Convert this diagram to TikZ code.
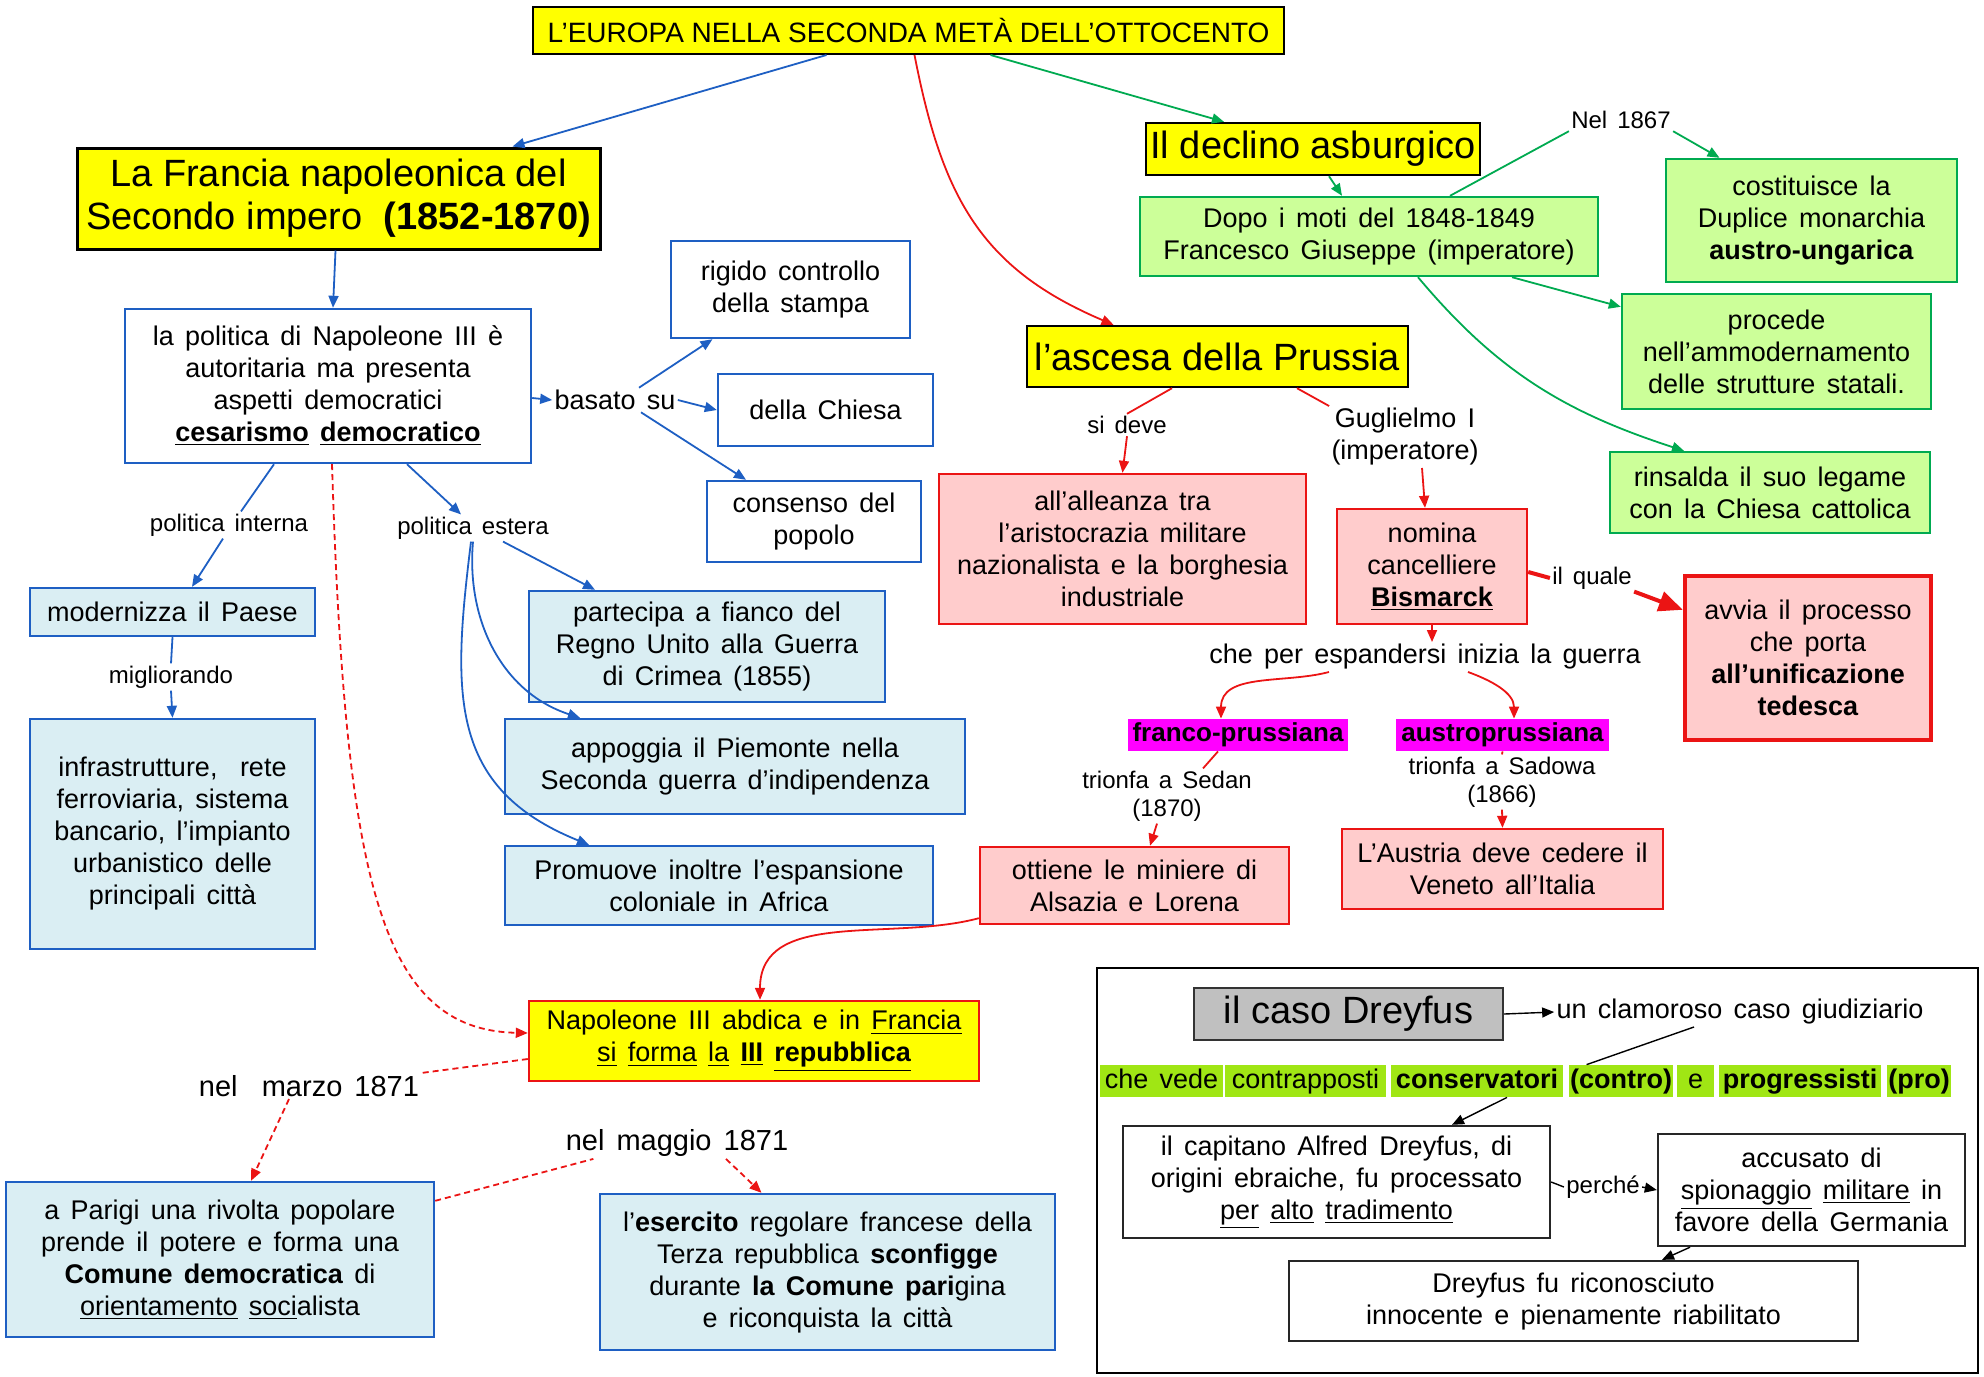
\documentclass[tikz,border=0pt]{standalone}
\usepackage{fontspec}
\setmainfont{Liberation Sans}[WordSpace=1.5]
\newfontfamily\plainsans{Liberation Sans}
\usetikzlibrary{arrows.meta}

\definecolor{bordoblu}{RGB}{30,95,195}
\definecolor{fondoblu}{RGB}{218,238,243}
\definecolor{bordoverde}{RGB}{0,170,80}
\definecolor{fondoverde}{RGB}{204,255,153}
\definecolor{bordorosso}{RGB}{235,20,20}
\definecolor{fondorosa}{RGB}{255,204,204}
\definecolor{giallo}{RGB}{255,255,0}
\definecolor{fucsia}{RGB}{255,0,255}
\definecolor{verdelime}{RGB}{160,230,20}
\definecolor{grigio}{RGB}{192,192,192}

\newcommand\testo{\fontsize{13.5}{16}\selectfont}
\newcommand\etich{\fontsize{12}{14}\selectfont}
\newcommand\grande{\plainsans\fontsize{19}{21.5}\selectfont}

\tikzset{
  wh/.style 2 args={minimum width=#1*0.5pt, minimum height=#2*0.5pt},
  casella/.style={align=center, inner sep=0pt, line width=1.2pt, font=\testo},
  blubox/.style={casella, draw=bordoblu, fill=white},
  azzbox/.style={casella, draw=bordoblu, fill=fondoblu},
  verdebox/.style={casella, draw=bordoverde, fill=fondoverde},
  rosabox/.style={casella, draw=bordorosso, fill=fondorosa},
  titolo/.style={casella, draw=black, fill=giallo, font=\grande},
  nerobox/.style={casella, draw=black!85, fill=white},
  fucsiabox/.style={fill=fucsia, inner sep=0pt, font=\fontsize{13}{15}\selectfont\bfseries},
  evid/.style={fill=verdelime, inner sep=0pt, text height=10pt, text depth=3pt, font=\testo},
  etic/.style={inner sep=1pt, align=center, font=\etich},
  freccia/.style={-{Triangle[length=6pt,width=5pt]}},
  blu/.style={draw=bordoblu, line width=0.9pt},
  verde/.style={draw=bordoverde, line width=0.9pt},
  rosso/.style={draw=bordorosso, line width=0.9pt},
  nero/.style={draw=black, line width=0.7pt},
  tratteggio/.style={rosso, dash pattern=on 3pt off 2pt}
}

\begin{document}
\begin{tikzpicture}[x=0.5pt, y=-0.5pt]
  \useasboundingbox (0,0) rectangle (1984,1376);
  \draw[line width=1pt] (1097,968) rectangle (1978,1373);

  \node[titolo, font=\plainsans\fontsize{14}{16}\selectfont, line width=1pt, wh={751}{47}] (europa) at (908.5,30.5) {L’EUROPA NELLA SECONDA METÀ DELL’OTTOCENTO};

  \node[titolo, line width=1.5pt, wh={523}{101}] (francia) at (338.5,198.5) {La Francia napoleonica del\\Secondo impero \ \textbf{(1852-1870)}};
  \node[blubox, wh={406}{154}] (politica) at (328,386) {la politica di Napoleone III è\\autoritaria ma presenta\\aspetti democratici\\\textbf{\underline{cesarismo}\ \underline{democratico}}};
  \node[etic, font=\testo] (basato) at (615,400) {basato su};
  \node[blubox, wh={239}{97}] (stampa) at (790.5,289.5) {rigido controllo\\della stampa};
  \node[blubox, wh={215}{72}] (chiesa) at (825.5,410) {della Chiesa};
  \node[blubox, wh={214}{81}] (consenso) at (814,521.5) {consenso del\\popolo};
  \node[etic] (interna) at (229,525) {politica interna};
  \node[etic] (estera) at (473,528) {politica estera};
  \node[azzbox, wh={285}{48}] (modernizza) at (172.5,612) {modernizza il Paese};
  \node[etic] (migliorando) at (171,677) {migliorando};
  \node[azzbox, wh={285}{230}] (infrastrutture) at (172.5,834) {infrastrutture, \ rete\\ferroviaria, sistema\\bancario, l'impianto\\urbanistico delle\\principali città};
  \node[azzbox, wh={356}{111}] (crimea) at (707,646.5) {partecipa a fianco del\\Regno Unito alla Guerra\\di Crimea (1855)};
  \node[azzbox, wh={460}{95}] (piemonte) at (735,766.5) {appoggia il Piemonte nella\\Seconda guerra d’indipendenza};
  \node[azzbox, wh={428}{79}] (africa) at (719,885.5) {Promuove inoltre l’espansione\\coloniale in Africa};

  \node[casella, draw=bordorosso, fill=giallo, wh={450}{80}] (abdica) at (754,1041) {Napoleone III abdica e in \underline{Francia}\\\underline{si} \underline{forma} \underline{la} \textbf{\underline{III}} \textbf{\underline{repubblica}}};
  \node[etic, font=\fontsize{14.5}{16}\selectfont] (marzo) at (309,1086) {nel \ marzo 1871};
  \node[azzbox, wh={428}{155}] (comune) at (220,1259.5) {a Parigi una rivolta popolare\\prende il potere e forma una\\\textbf{Comune democratica} di\\\underline{orientamento} \underline{soci}alista};
  \node[etic, font=\fontsize{14.5}{16}\selectfont] (maggio) at (677,1143) {nel maggio 1871};
  \node[azzbox, wh={455}{156}] (esercito) at (827.5,1272) {l’\textbf{esercito} regolare francese della\\Terza repubblica \textbf{sconfigge}\\durante \textbf{la Comune pari}gina\\e riconquista la città};

  \node[titolo, wh={334}{52}] (declino) at (1313,149) {Il declino asburgico};
  \node[verdebox, wh={458}{79}] (moti) at (1369,236.5) {Dopo i moti del 1848-1849\\Francesco Giuseppe (imperatore)};
  \node[etic] (anno) at (1621,120) {Nel 1867};
  \node[verdebox, wh={291}{123}] (duplice) at (1811.5,220.5) {costituisce la\\Duplice monarchia\\\textbf{austro-ungarica}};
  \node[verdebox, wh={309}{115}] (ammodernamento) at (1776.5,351.5) {procede\\nell’ammodernamento\\delle strutture statali.};
  \node[verdebox, wh={320}{81}] (legame) at (1770,492.5) {rinsalda il suo legame\\con la Chiesa cattolica};

  \node[titolo, wh={381}{61}] (prussia) at (1217.5,356.5) {l’ascesa della Prussia};
  \node[etic] (sideve) at (1127,425) {si deve};
  \node[rosabox, wh={367}{150}] (alleanza) at (1122.5,549) {all’alleanza tra\\l’aristocrazia militare\\nazionalista e la borghesia\\industriale};
  \node[etic, font=\testo] (guglielmo) at (1405,437) {Guglielmo I\\(imperatore)};
  \node[rosabox, wh={190}{115}] (cancelliere) at (1432,566.5) {nomina\\cancelliere\\\textbf{\underline{Bismarck}}};
  \node[etic] (quale) at (1592,578) {il quale};
  \node[rosabox, line width=2.2pt, wh={246}{164}] (unificazione) at (1808,658) {avvia il processo\\che porta\\\textbf{all’unificazione}\\\textbf{tedesca}};
  \node[etic, font=\testo] (guerra) at (1425,657) {che per espandersi inizia la guerra};
  \node[fucsiabox, wh={220}{32}] (francoprussiana) at (1238,735) {franco-prussiana};
  \node[fucsiabox, wh={213}{32}] (austroprussiana) at (1502.5,735) {austroprussiana};
  \node[etic] (sedan) at (1167,796) {trionfa a Sedan\\(1870)};
  \node[etic] (sadowa) at (1502,782) {trionfa a Sadowa\\(1866)};
  \node[rosabox, wh={309}{77}] (miniere) at (1134.5,885.5) {ottiene le miniere di\\Alsazia e Lorena};
  \node[rosabox, wh={321}{80}] (veneto) at (1502.5,869) {L’Austria deve cedere il\\Veneto all’Italia};

  \node[casella, draw=black!80, fill=grigio, font=\grande, wh={309}{52}] (caso) at (1348.5,1014) {il caso Dreyfus};
  \node[etic, font=\testo] (clamoroso) at (1740,1012) {un clamoroso caso giudiziario};
  \node[evid, wh={123}{32}] (chevede) at (1161.5,1081) {che vede};
  \node[evid, wh={161}{32}] (contrapposti) at (1305.5,1081) {contrapposti};
  \node[evid, wh={172}{32}, font=\testo\bfseries] (conservatori) at (1477,1081) {conservatori};
  \node[evid, wh={104}{32}, font=\testo\bfseries] (contro) at (1621,1081) {(contro)};
  \node[evid, wh={37}{32}] (congiunzione) at (1695.5,1081) {e};
  \node[evid, wh={162}{32}, font=\testo\bfseries] (progressisti) at (1800,1081) {progressisti};
  \node[evid, wh={64}{32}, font=\testo\bfseries] (pro) at (1919,1081) {(pro)};
  \node[nerobox, wh={427}{112}] (capitano) at (1336.5,1182) {il capitano Alfred Dreyfus, di\\origini ebraiche, fu processato\\\underline{per} \underline{alto} \underline{tradimento}};
  \node[etic] (perche) at (1603,1187) {perché};
  \node[nerobox, wh={307}{112}] (accusato) at (1811.5,1190) {accusato di\\\underline{spionaggio} \underline{militare} in\\favore della Germania};
  \node[nerobox, wh={569}{80}] (riabilitato) at (1573.5,1301) {Dreyfus fu riconosciuto\\innocente e pienamente riabilitato};

  \draw[blu, freccia] ([xshift=-41pt]europa.south) -- ([xshift=87pt]francia.north);
  \draw[rosso, freccia] ([xshift=3pt]europa.south) to[out=-79, in=157, looseness=1.1] ([xshift=-52pt]prussia.north);
  \draw[verde, freccia] ([xshift=41pt]europa.south) -- ([xshift=-44.5pt]declino.north);

  \draw[blu, freccia] ([xshift=-1.5pt]francia.south) -- ([xshift=2.5pt]politica.north);
  \draw[blu, freccia] ([yshift=-6pt]politica.east) -- (basato.west);
  \draw[blu, freccia] ([xshift=12pt]basato.north) -- ([xshift=-39pt]stampa.south);
  \draw[blu, freccia] (basato.east) -- (chiesa.west);
  \draw[blu, freccia] ([xshift=13pt]basato.south) -- ([xshift=-34pt]consenso.north);
  \draw[blu] ([xshift=-27pt]politica.south) -- ([xshift=6pt]interna.north);
  \draw[blu, freccia] ([xshift=-3pt]interna.south) -- ([xshift=9.75pt]modernizza.north);
  \draw[blu, freccia] ([xshift=39.5pt]politica.south) -- ([xshift=-6pt]estera.north);
  \draw[blu] (modernizza.south) -- (migliorando.north);
  \draw[blu, freccia] (migliorando.south) -- (infrastrutture.north);
  \draw[blu, freccia] ([xshift=15pt]estera.south) -- ([xshift=-56pt]crimea.north);
  \draw[blu, freccia] (estera.south) to[out=-95, in=162] ([xshift=-77.5pt]piemonte.north);
  \draw[blu, freccia] ([xshift=-1pt]estera.south) to[out=-97, in=158, looseness=1.2] ([xshift=-65pt]africa.north);

  \draw[tratteggio, freccia] ([xshift=2pt]politica.south) .. controls (345,880) and (380,1030) .. ([yshift=4pt]abdica.west);
  \draw[rosso, freccia] ([yshift=3.5pt]miniere.south west) to[out=195, in=90] ([xshift=3pt]abdica.north);
  \draw[tratteggio] ([yshift=-9pt]abdica.west) -- (marzo.north east);
  \draw[tratteggio, freccia] ([xshift=-10pt]marzo.south) -- ([xshift=15.5pt]comune.north);
  \draw[tratteggio] ([yshift=-10pt]comune.north east) -- ([xshift=15pt]maggio.south west);
  \draw[tratteggio, freccia] ([xshift=24.5pt]maggio.south) -- ([xshift=-33pt]esercito.north);

  \draw[verde, freccia] ([xshift=8pt]declino.south) -- ([xshift=-13.5pt]moti.north);
  \draw[verde] ([xshift=40.5pt]moti.north) -- (anno.south west);
  \draw[verde, freccia] (anno.south east) -- ([xshift=-46pt]duplice.north);
  \draw[verde, freccia] ([xshift=71.5pt]moti.south) -- ([yshift=-7pt]ammodernamento.north west);
  \draw[verde, freccia] ([xshift=24.5pt]moti.south) to[out=-50, in=162] ([xshift=-43pt]legame.north);

  \draw[rosso] ([xshift=-22.75pt]prussia.south) -- (sideve.north);
  \draw[rosso, freccia] (sideve.south) -- (alleanza.north);
  \draw[rosso] ([xshift=39.75pt]prussia.south) -- (guglielmo.north west);
  \draw[rosso, freccia] ([xshift=8.5pt]guglielmo.south) -- ([xshift=-3.5pt]cancelliere.north);
  \draw[rosso, line width=2pt] ([yshift=-2.75pt]cancelliere.east) -- (quale.west);
  \draw[rosso, line width=2pt, -{Triangle[length=12pt,width=10pt]}] (quale.south east) -- ([yshift=-18pt]unificazione.north west);
  \draw[rosso, freccia] (cancelliere.south) -- (cancelliere.south |- guerra.north);
  \draw[rosso, freccia] ([xshift=-48pt]guerra.south) to[out=195, in=90] ([xshift=-8.5pt]francoprussiana.north);
  \draw[rosso, freccia] ([xshift=21.5pt]guerra.south) to[out=-20, in=90] ([xshift=5.75pt]austroprussiana.north);
  \draw[rosso] ([xshift=-10pt]francoprussiana.south) -- ([xshift=18pt]sedan.north);
  \draw[rosso, freccia] ([xshift=-5pt]sedan.south) -- ([xshift=7.75pt]miniere.north);
  \draw[rosso] (austroprussiana.south) -- (sadowa.north);
  \draw[rosso, freccia] (sadowa.south) -- (veneto.north);

  \draw[nero, freccia] (caso.east) -- (clamoroso.west);
  \draw[nero] ([xshift=-23pt]clamoroso.south) -- ([xshift=9pt]contro.north west);
  \draw[nero, freccia] ([xshift=15pt]conservatori.south) -- ([xshift=57.75pt]capitano.north);
  \draw[nero] (capitano.east) -- (perche.west);
  \draw[nero, freccia] (perche.east) -- (accusato.west);
  \draw[nero, freccia] ([xshift=-60.75pt]accusato.south) -- ([xshift=44.25pt]riabilitato.north);
\end{tikzpicture}
\end{document}
